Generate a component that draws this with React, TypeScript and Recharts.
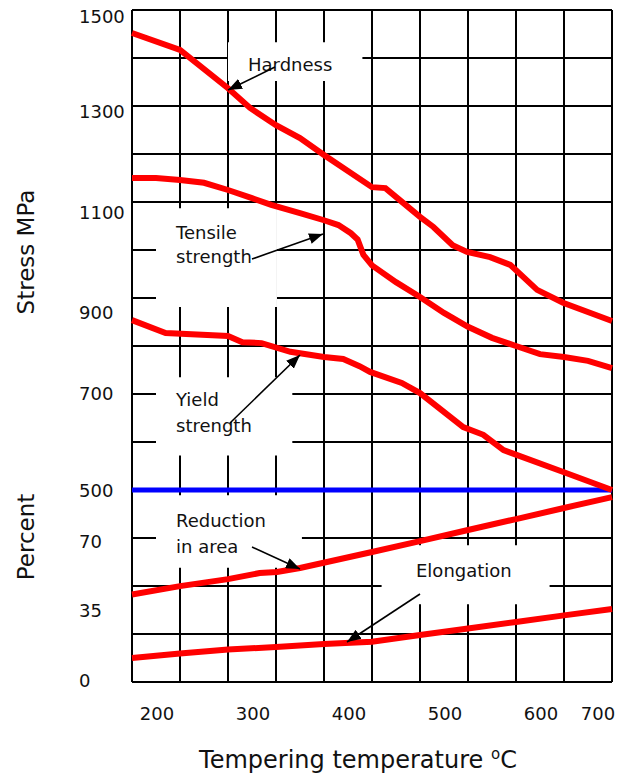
// TemperingChart.tsx
import React from "react";
import {
  LineChart,
  Line,
  XAxis,
  YAxis,
  CartesianGrid,
  ReferenceLine,
  ReferenceArea,
} from "recharts";

// temperatures (°C) and values
const hardnessT = [200, 250, 300, 323, 350, 375, 400, 450, 464, 479, 500, 514, 534, 549, 573, 594, 622, 649, 700];
const hardnessMPa = [1452, 1417, 1337, 1296, 1260, 1233, 1198, 1131, 1129, 1104, 1069, 1048, 1010, 996, 985, 969, 917, 890, 852];

const tensileT = [200, 225, 250, 275, 300, 325, 345, 375, 400, 415, 428, 435, 441, 450, 475, 500, 525, 550, 575, 600, 625, 650, 675, 700];
const tensileMPa = [1150, 1150, 1146, 1140, 1125, 1108, 1094, 1077, 1062, 1052, 1035, 1022, 990, 968, 933, 902, 869, 840, 817, 800, 783, 777, 769, 754];

const yieldT = [200, 235, 300, 315, 335, 365, 400, 420, 437, 448, 481, 500, 545, 566, 587, 650, 700];
const yieldMPa = [854, 827, 821, 808, 806, 788, 777, 773, 758, 746, 723, 702, 631, 615, 583, 537, 500];

const reductionT = [200, 250, 300, 333, 351, 375, 450, 500, 550, 600, 650, 700];
const reductionPct = [42.5, 46.6, 50.0, 53.0, 53.5, 55.4, 63.2, 68.5, 73.9, 79.2, 84.6, 89.9];

const elongationT = [200, 250, 300, 350, 400, 450, 500, 550, 600, 650, 700];
const elongationPct = [11.7, 13.8, 15.8, 17.0, 18.5, 19.6, 22.8, 26.0, 29.2, 32.4, 35.5];

const xTicks = [200, 300, 400, 500, 600, 700];
const stressTicks = [500, 700, 900, 1100, 1300, 1500];
const pctTicks = [0, 35, 70];

// the lower band holds percent: 0 % sits at 100, 70 % at 400 on the stress scale
const pctToAxis = (p: number) => 100 + (p * 300) / 70;

const toRows = (ts: number[], vs: number[]) => ts.map((t, i) => ({ t, v: vs[i] }));
const hardnessRows = toRows(hardnessT, hardnessMPa);
const tensileRows = toRows(tensileT, tensileMPa);
const yieldRows = toRows(yieldT, yieldMPa);
const reductionRows = toRows(reductionT, reductionPct.map(pctToAxis));
const elongationRows = toRows(elongationT, elongationPct.map(pctToAxis));

const yTicks = [...pctTicks.map(pctToAxis), ...stressTicks];
const yLabel: Record<number, string> = {};
pctTicks.forEach((p) => (yLabel[pctToAxis(p)] = String(p)));
stressTicks.forEach((s) => (yLabel[s] = String(s)));

const gridH = Array.from({ length: 15 }, (_, i) => 100 + i * 100);
const gridV = Array.from({ length: 11 }, (_, i) => 200 + i * 50);

const FONT = "DejaVu Sans";
const INK = "#111";

// labels in the original sit a little off their grid lines
const yNudge: Record<number, number> = { 1500: 6, 1300: 5, 1100: 10, 900: 14, 700: -1, 500: 0, 400: 3, 250: 0, 100: -2 };

function YTick(props: any) {
  const { y, payload } = props;
  const v = payload.value;
  return (
    <text x={79} y={y + (yNudge[v] ?? 0)} dominantBaseline="central" fontFamily={FONT} fontSize={18} fill={INK}>
      {yLabel[v]}
    </text>
  );
}

function XTick(props: any) {
  const { x, payload } = props;
  const v = payload.value;
  const shift = v === 700 ? -14 : 25;
  return (
    <text x={x + shift} y={720} textAnchor="middle" fontFamily={FONT} fontSize={18} fill={INK}>
      {v}
    </text>
  );
}

// white patches behind the annotations (temperature, stress-scale units)
const boxes = [
  { x1: 300, x2: 440, y1: 1352, y2: 1433 },
  { x1: 225, x2: 351, y1: 881, y2: 1087 },
  { x1: 225, x2: 367, y1: 572, y2: 735 },
  { x1: 225, x2: 377, y1: 338, y2: 489 },
  { x1: 460, x2: 635, y1: 262, y2: 385 },
];

function Arrow({ x1, y1, x2, y2 }: { x1: number; y1: number; x2: number; y2: number }) {
  return <line x1={x1} y1={y1} x2={x2} y2={y2} stroke="#000" strokeWidth={1.6} markerEnd="url(#head)" />;
}

export default function App() {
  const red = "#ff0000";
  return (
    <div style={{ position: "absolute", left: 0, top: 0, width: 629, height: 780, background: "#fff" }}>
      <LineChart width={629} height={780} margin={{ top: 10, right: 17, bottom: 0, left: 72 }}>
        <CartesianGrid stroke="#000" strokeWidth={2} horizontalValues={gridH} verticalValues={gridV} />
        <XAxis
          type="number"
          dataKey="t"
          domain={[200, 700]}
          ticks={xTicks}
          height={98}
          axisLine={false}
          tickLine={false}
          tick={<XTick />}
        />
        <YAxis
          type="number"
          domain={[100, 1500]}
          ticks={yTicks}
          width={60}
          axisLine={false}
          tickLine={false}
          tick={<YTick />}
        />
        {boxes.map((b, i) => (
          <ReferenceArea key={i} x1={b.x1} x2={b.x2} y1={b.y1} y2={b.y2} fill="#fff" fillOpacity={1} stroke="none" />
        ))}
        <ReferenceLine y={500} stroke="#0000ff" strokeWidth={5} />
        <Line data={hardnessRows} dataKey="v" stroke={red} strokeWidth={6} dot={false} isAnimationActive={false} />
        <Line data={tensileRows} dataKey="v" stroke={red} strokeWidth={6} dot={false} isAnimationActive={false} />
        <Line data={yieldRows} dataKey="v" stroke={red} strokeWidth={6} dot={false} isAnimationActive={false} />
        <Line data={reductionRows} dataKey="v" stroke={red} strokeWidth={6} dot={false} isAnimationActive={false} />
        <Line data={elongationRows} dataKey="v" stroke={red} strokeWidth={6} dot={false} isAnimationActive={false} />
      </LineChart>

      <svg width={629} height={780} style={{ position: "absolute", left: 0, top: 0, pointerEvents: "none" }}>
        <defs>
          <marker id="head" markerWidth={14} markerHeight={11} refX={14} refY={5.5} orient="auto" markerUnits="userSpaceOnUse">
            <path d="M0,0 L14,5.5 L0,11 z" fill="#000" />
          </marker>
        </defs>
        <g fontFamily={FONT} fontSize={18} fill={INK}>
          <text x={248} y={71}>Hardness</text>
          <text x={176} y={239}>Tensile</text>
          <text x={176} y={263}>strength</text>
          <text x={176} y={406}>Yield</text>
          <text x={176} y={432}>strength</text>
          <text x={176} y={527}>Reduction</text>
          <text x={176} y={553}>in area</text>
          <text x={416} y={577}>Elongation</text>
        </g>
        <Arrow x1={275} y1={67} x2={228} y2={90} />
        <Arrow x1={252} y1={259} x2={323} y2={234} />
        <Arrow x1={230} y1={423} x2={300} y2={355} />
        <Arrow x1={252} y1={547} x2={300} y2={569} />
        <Arrow x1={420} y1={594} x2={347} y2={642} />

        <g fontFamily={FONT} fontSize={23} fill={INK}>
          <text transform="translate(34,252) rotate(-90)" textAnchor="middle">Stress MPa</text>
          <text transform="translate(34,537) rotate(-90)" textAnchor="middle">Percent</text>
          <text x={358} y={768} textAnchor="middle" fontSize={24}>
            Tempering temperature <tspan dy={-9} fontSize={15}>o</tspan>
            <tspan dy={9}>C</tspan>
          </text>
        </g>
      </svg>
    </div>
  );
}
